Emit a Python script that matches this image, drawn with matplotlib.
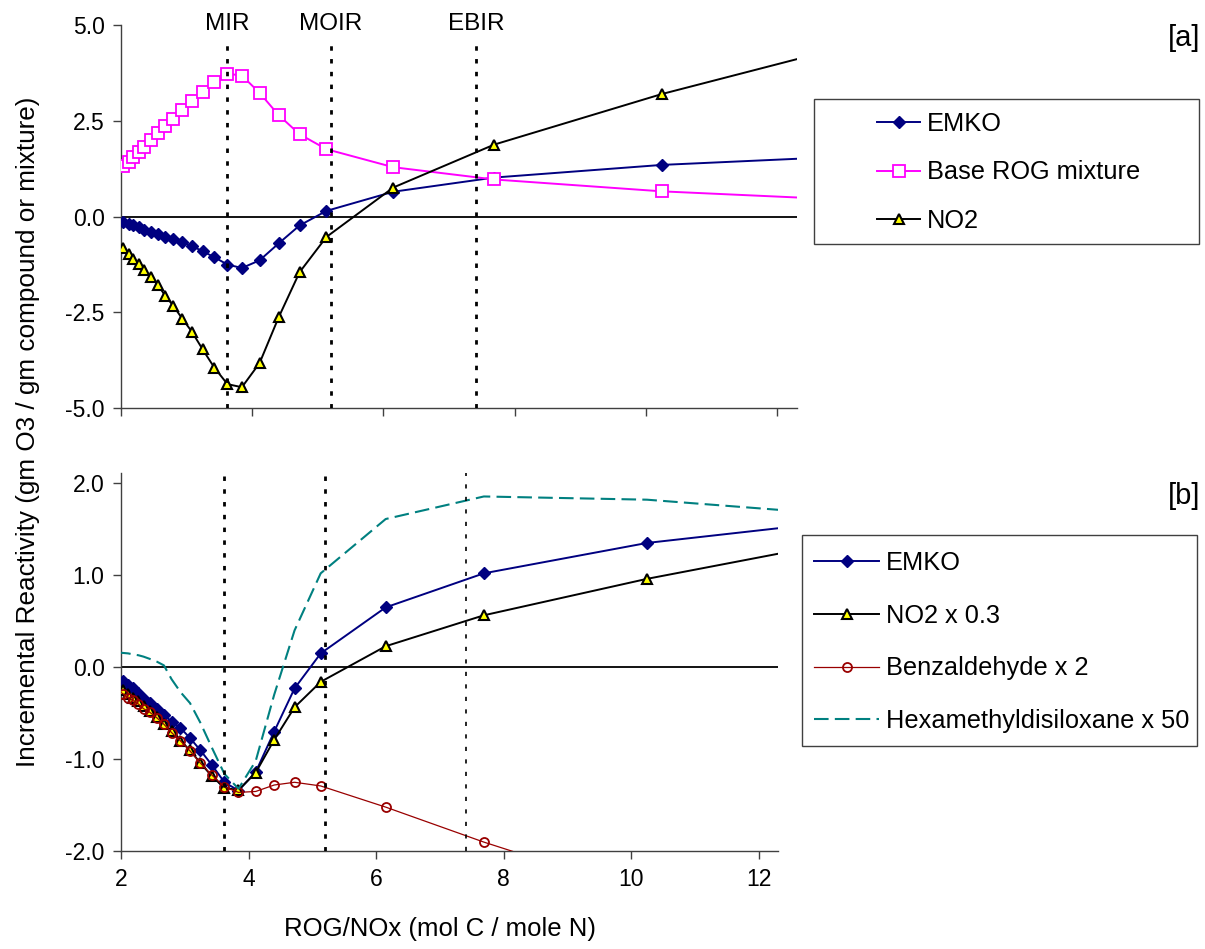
import numpy as np
import matplotlib
matplotlib.use("Agg")
import matplotlib.pyplot as plt
from matplotlib.patches import Rectangle
from matplotlib.ticker import FormatStrFormatter

plt.rcParams['font.family'] = ['Liberation Sans', 'DejaVu Sans']
plt.rcParams['axes.unicode_minus'] = False

# ROG/NOx ratio (first and last values are line ends drawn without markers)
rog_nox = [1.92, 2.03, 2.11, 2.18, 2.27, 2.35, 2.45, 2.56, 2.67, 2.79, 2.93, 3.08,
           3.24, 3.42, 3.62, 3.84, 4.11, 4.40, 4.72, 5.13, 6.15, 7.69, 10.25, 12.31]

# incremental reactivities
emko = [-0.10, -0.15, -0.19, -0.23, -0.28, -0.34, -0.39, -0.45, -0.52, -0.59, -0.66, -0.77,
        -0.90, -1.06, -1.25, -1.34, -1.14, -0.70, -0.23, 0.15, 0.65, 1.02, 1.35, 1.51]
base_rog = [1.12, 1.31, 1.43, 1.56, 1.69, 1.83, 1.99, 2.17, 2.37, 2.56, 2.77, 3.01,
            3.26, 3.52, 3.73, 3.68, 3.23, 2.65, 2.15, 1.76, 1.29, 0.97, 0.66, 0.50]
no2 = [-0.62, -0.82, -0.97, -1.10, -1.23, -1.39, -1.57, -1.79, -2.06, -2.32, -2.66, -3.01,
       -3.46, -3.94, -4.37, -4.45, -3.82, -2.63, -1.45, -0.53, 0.76, 1.88, 3.20, 4.11]
benzaldehyde_x2 = [-0.24, -0.29, -0.33, -0.36, -0.40, -0.45, -0.49, -0.55, -0.62, -0.71, -0.80, -0.91,
                   -1.04, -1.17, -1.30, -1.36, -1.35, -1.28, -1.25, -1.29, -1.52, -1.90, -2.47, -2.90]
hmds_x50 = [0.16, 0.155, 0.15, 0.14, 0.13, 0.115, 0.09, 0.06, 0.02, -0.13, -0.27, -0.39,
            -0.60, -0.87, -1.16, -1.32, -1.02, -0.30, 0.40, 1.02, 1.61, 1.855, 1.82, 1.71]

ref_names = ["MIR", "MOIR", "EBIR"]
ref_x = [3.62, 5.20, 7.41]

x_ticks = [2, 4, 6, 8, 10, 12]
top_yticks = [-5.0, -2.5, 0.0, 2.5, 5.0]
bot_yticks = [-2.0, -1.0, 0.0, 1.0, 2.0]

W, H = 1205, 949
fig = plt.figure(figsize=(W / 100, H / 100), dpi=100)


def px_box(x0, y0, x1, y1):
    # pixel box -> figure fraction [left, bottom, width, height]
    return [x0 / W, 1 - y1 / H, (x1 - x0) / W, (y1 - y0) / H]


def style_axes(ax):
    for s in ['top', 'right']:
        ax.spines[s].set_visible(False)
    for s in ['left', 'bottom']:
        ax.spines[s].set_color('#404040')
        ax.spines[s].set_linewidth(1.0)
    ax.tick_params(direction='out', length=6, width=1, color='#404040', labelsize=16.5, pad=6)
    ax.set_xlim(2, 12.31)
    ax.set_xticks(x_ticks)
    ax.yaxis.set_major_formatter(FormatStrFormatter('%.1f'))
    ax.axhline(0, color='black', lw=1.3, zorder=1.5)


marks = slice(1, len(rog_nox) - 1)
x = np.array(rog_nox)

# ---- panel [a]
ax1 = fig.add_axes(px_box(121.3, 25, 797, 408.3))
style_axes(ax1)
ax1.set_ylim(-5, 5)
ax1.set_yticks(top_yticks)
ax1.tick_params(labelbottom=False)

l1 = ax1.plot(x, emko, color='#000080', lw=1.4, marker='D', ms=6, mfc='#000080',
              mec='#000080', markevery=marks, label='EMKO', zorder=3)[0]
l2 = ax1.plot(x, base_rog, color='#FF00FF', lw=1.4, marker='s', ms=8, mfc='white',
              mec='#FF00FF', mew=1.3, markevery=marks, label='Base ROG mixture', zorder=3.1)[0]
l3 = ax1.plot(x, no2, color='black', lw=1.4, marker='^', ms=7.5, mfc='#FFFF00',
              mec='black', mew=1.5, markevery=marks, label='NO2', zorder=3.2)[0]

ax1.vlines(ref_x, -5, 4.66, colors='black', lw=2, linestyles=[(0, (1.6, 3.0))], zorder=5)
for name, rx in zip(ref_names, ref_x):
    ax1.text(rx, 0.987, name, transform=ax1.get_xaxis_transform(), ha='center',
             va='baseline', fontsize=17.5, clip_on=False)

# ---- panel [b]
ax2 = fig.add_axes(px_box(121.2, 473, 778.3, 851.3))
style_axes(ax2)
ax2.set_ylim(-2, 2.11)
ax2.set_yticks(bot_yticks)

m1 = ax2.plot(x, emko, color='#000080', lw=1.4, marker='D', ms=6, mfc='#000080',
              mec='#000080', markevery=marks, label='EMKO', zorder=3)[0]
m2 = ax2.plot(x, np.array(no2) * 0.3, color='black', lw=1.4, marker='^', ms=7.5, mfc='#FFFF00',
              mec='black', mew=1.5, markevery=marks, label='NO2 x 0.3', zorder=3.1)[0]
m3 = ax2.plot(x, benzaldehyde_x2, color='#990000', lw=0.9, marker='o', ms=6.5, mfc='none',
              mec='#990000', mew=1.3, markevery=marks, label='Benzaldehyde x 2', zorder=3.2)[0]
m4 = ax2.plot(x, hmds_x50, color='#008080', lw=1.5, ls=(0, (7, 3)),
              label='Hexamethyldisiloxane x 50', zorder=3.3)[0]

for rx, lw, dash in zip(ref_x, [2, 2, 1.2], [(1.6, 3.0), (1.6, 3.0), (2.5, 5.0)]):
    ax2.axvline(rx, color='black', lw=lw, ls=(0, dash), zorder=5)

# ---- texts
fig.text(1200 / W, 1 - 38 / H, '[a]', ha='right', va='center', fontsize=21)
fig.text(1200 / W, 1 - 496 / H, '[b]', ha='right', va='center', fontsize=21)
fig.text(28 / W, 1 - 432 / H, 'Incremental Reactivity (gm O3 / gm compound or mixture)',
         rotation=90, ha='center', va='center', fontsize=18.8)
fig.text(440 / W, 1 - 929 / H, 'ROG/NOx (mol C / mole N)', ha='center', va='center',
         fontsize=18.5)

# ---- legends with separate frames
fig.legend([l1, l2, l3], [l.get_label() for l in (l1, l2, l3)], loc='upper left',
           bbox_to_anchor=(877 / W, 1 - 112 / H), frameon=False, borderpad=0,
           borderaxespad=0, handlelength=1.7, handletextpad=0.26, labelspacing=0.96,
           fontsize=18.3)
fig.add_artist(Rectangle(((814.3) / W, 1 - 244 / H), (1199.3 - 814.3) / W, (244 - 99) / H,
                         transform=fig.transFigure, fill=False, ec='#404040', lw=1.0))

fig.legend([m1, m2, m3, m4], [l.get_label() for l in (m1, m2, m3, m4)], loc='upper left',
           bbox_to_anchor=(814.3 / W, 1 - 551 / H), frameon=False, borderpad=0,
           borderaxespad=0, handlelength=2.56, handletextpad=0.26, labelspacing=1.13,
           fontsize=18.3)
fig.add_artist(Rectangle((802.3 / W, 1 - 746 / H), (1196.7 - 802.3) / W, (746 - 535) / H,
                         transform=fig.transFigure, fill=False, ec='#404040', lw=1.0))

fig.savefig('out.png', dpi=100)
